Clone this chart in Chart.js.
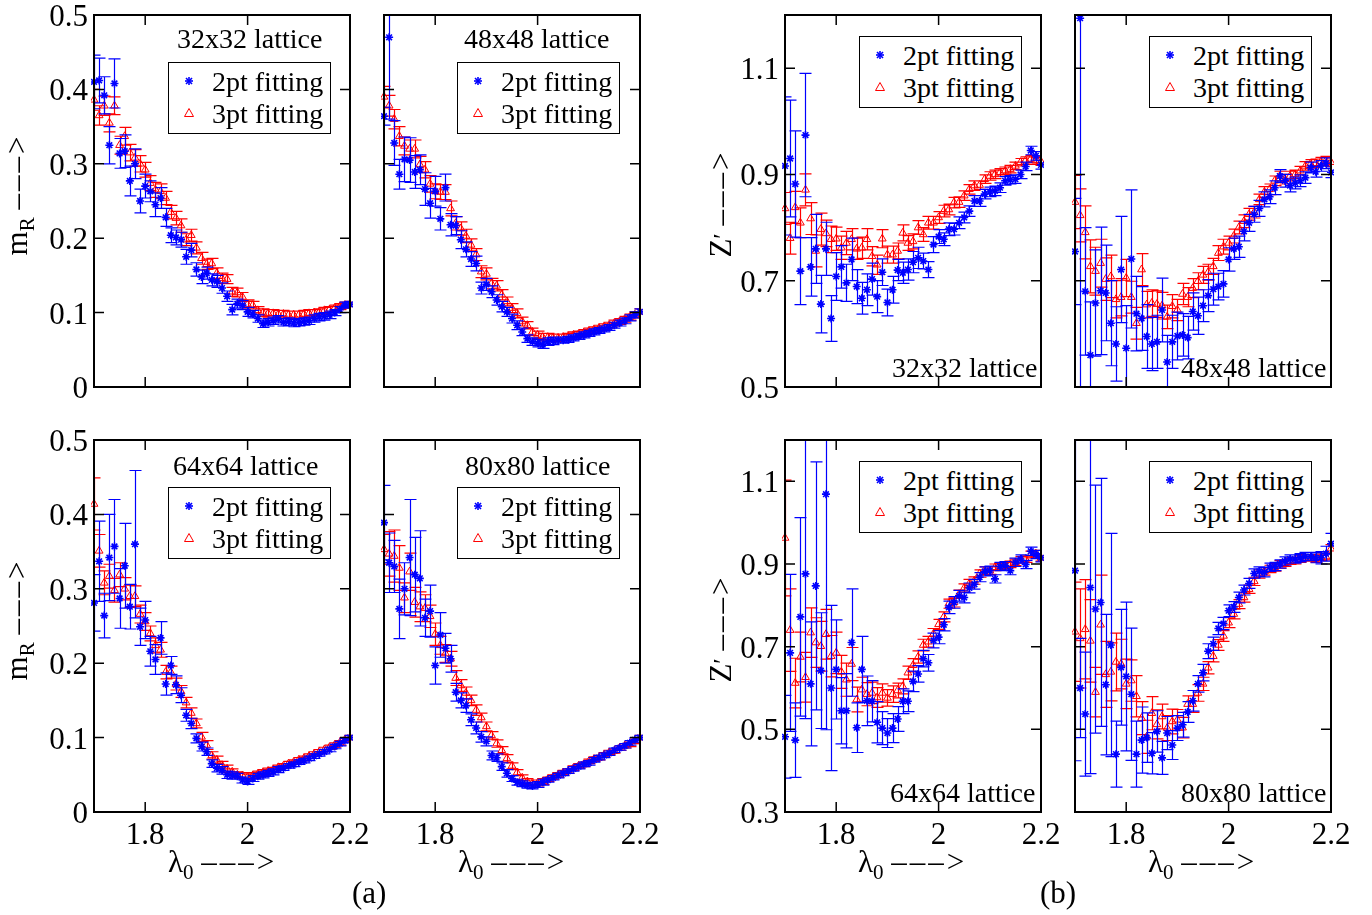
<!DOCTYPE html>
<html>
<head>
<meta charset="utf-8">
<script src="https://cdn.jsdelivr.net/npm/chart.js@4.4.1/dist/chart.umd.min.js"></script>
<style>
  html, body { margin: 0; padding: 0; background: #fff; }
  #page { position: relative; width: 1372px; height: 915px; overflow: hidden; font-family: 'Liberation Serif', 'Times New Roman', serif; color: #000; }
  canvas { position: absolute; }
  .txt { position: absolute; white-space: nowrap; font-size: 28px; line-height: 28px; }
  .legend { position: absolute; width: 163px; height: 72px; border: 1px solid #000; background: #fff; box-sizing: border-box; }
  .legend .row { position: absolute; left: 43px; font-size: 28px; line-height: 32px; white-space: nowrap; }
  .legend svg { position: absolute; left: 12px; }
  .title { position: absolute; white-space: nowrap; font-size: 31px; line-height: 32px; }
  .rot { position: absolute; width: 200px; height: 32px; line-height: 32px; text-align: center; font-size: 31px; transform: rotate(-90deg); white-space: nowrap; }
  .dash { letter-spacing: 3px; }
  sub { font-size: 68%; vertical-align: -0.35em; line-height: 0; }
</style>
</head>
<body>
<div id="page"></div>
<script>
// coupling values lambda_0 (shared x positions)
const lambda = [1.70,1.71,1.72,1.73,1.74,1.75,1.76,1.77,1.78,1.79,
                1.80,1.81,1.82,1.83,1.84,1.85,1.86,1.87,1.88,1.89,
                1.90,1.91,1.92,1.93,1.94,1.95,1.96,1.97,1.98,1.99,
                2.00,2.01,2.02,2.03,2.04,2.05,2.06,2.07,2.08,2.09,
                2.10,2.11,2.12,2.13,2.14,2.15,2.16,2.17,2.18,2.19,
                2.20];

const xTicks = [1.8, 2.0, 2.2];
const mTicks = [0, 0.1, 0.2, 0.3, 0.4, 0.5];
const zTopTicks = [0.5, 0.7, 0.9, 1.1];
const zBottomTicks = [0.3, 0.5, 0.7, 0.9, 1.1];

const latticeLabels = ['32x32 lattice', '48x48 lattice', '64x64 lattice', '80x80 lattice'];
const seriesLabels = ['2pt fitting', '3pt fitting'];

// ---- (a) renormalized mass m_R ----
const m32Two = [.410,.412,.392,.325,.408,.314,.317,.277,.300,.250,
                .270,.263,.245,.254,.228,.204,.201,.198,.175,.184,
                .158,.148,.153,.144,.142,.133,.122,.104,.112,.110,
                .101,.098,.092,.085,.087,.089,.091,.087,.088,.086,
                .087,.088,.089,.092,.094,.095,.097,.100,.104,.110,
                .111];
const m32TwoErr = [.036,.030,.025,.025,.033,.020,.022,.020,.020,.016,
                   .016,.014,.016,.014,.012,.010,.010,.010,.010,.009,
                   .009,.009,.008,.008,.008,.007,.007,.007,.006,.006,
                   .006,.005,.005,.005,.005,.005,.005,.005,.005,.005,
                   .005,.005,.005,.005,.005,.005,.005,.004,.004,.004,
                   .004];
const m32Three = [.386,.365,.378,.355,.378,.325,.337,.315,.308,.300,
                  .292,.274,.265,.263,.254,.235,.227,.217,.198,.204,
                  .187,.173,.165,.166,.153,.146,.145,.128,.127,.121,
                  .111,.110,.103,.100,.099,.099,.098,.098,.097,.097,
                  .097,.098,.099,.100,.101,.103,.104,.106,.108,.110,
                  .111];
const m32ThreeErr = [.014,.013,.013,.012,.012,.012,.012,.011,.011,.011,
                     .010,.010,.010,.010,.009,.009,.009,.009,.008,.008,
                     .008,.008,.007,.007,.007,.007,.006,.006,.006,.006,
                     .006,.005,.005,.005,.005,.005,.005,.005,.005,.005,
                     .005,.005,.005,.004,.004,.004,.004,.004,.004,.004,
                     .004];

const m48Two = [.364,.470,.328,.286,.306,.305,.289,.292,.266,.247,
                .263,.226,.268,.218,.217,.198,.185,.172,.166,.133,
                .138,.128,.117,.108,.101,.092,.083,.074,.065,.061,
                .059,.057,.061,.062,.063,.063,.064,.066,.068,.070,
                .072,.074,.076,.078,.080,.083,.086,.089,.093,.097,
                .101];
const m48TwoErr = [.012,.110,.030,.020,.030,.030,.022,.020,.022,.020,
                   .020,.015,.018,.015,.012,.012,.010,.010,.010,.008,
                   .008,.008,.007,.007,.006,.006,.006,.005,.005,.005,
                   .005,.005,.005,.005,.004,.004,.004,.004,.004,.004,
                   .004,.004,.004,.004,.004,.004,.004,.004,.004,.004,
                   .004];
const m48Three = [.390,.378,.360,.337,.324,.320,.320,.299,.292,.273,
                  .263,.262,.262,.240,.220,.213,.203,.191,.178,.155,
                  .152,.139,.136,.124,.115,.106,.099,.088,.083,.074,
                  .070,.067,.067,.066,.066,.067,.068,.070,.071,.073,
                  .075,.077,.079,.081,.083,.086,.088,.091,.094,.097,
                  .101];
const m48ThreeErr = [.014,.014,.013,.013,.012,.012,.012,.011,.011,.011,
                     .010,.010,.010,.010,.009,.009,.009,.008,.008,.008,
                     .008,.007,.007,.007,.006,.006,.006,.006,.005,.005,
                     .005,.005,.005,.005,.005,.004,.004,.004,.004,.004,
                     .004,.004,.004,.004,.004,.004,.004,.004,.004,.004,
                     .004];

const m64Two = [.281,.337,.264,.342,.357,.287,.331,.276,.360,.249,
                .258,.216,.205,.234,.172,.197,.171,.157,.130,.119,
                .099,.088,.081,.065,.059,.056,.050,.049,.048,.043,
                .041,.045,.048,.050,.052,.054,.057,.059,.062,.064,
                .067,.069,.072,.075,.078,.081,.084,.088,.092,.096,
                .100];
const m64TwoErr = [.038,.054,.030,.058,.063,.040,.057,.030,.099,.025,
                   .025,.020,.020,.022,.015,.012,.012,.010,.008,.007,
                   .006,.006,.005,.005,.005,.005,.005,.005,.004,.004,
                   .004,.004,.004,.004,.004,.004,.004,.003,.003,.003,
                   .003,.003,.003,.003,.003,.003,.003,.003,.003,.003,
                   .003];
const m64Three = [.414,.351,.308,.317,.298,.319,.300,.290,.290,.266,
                  .256,.240,.224,.218,.188,.188,.172,.162,.147,.133,
                  .119,.101,.090,.076,.070,.063,.058,.054,.050,.049,
                  .047,.049,.051,.053,.055,.057,.060,.062,.065,.067,
                  .070,.072,.075,.078,.081,.084,.087,.090,.093,.097,
                  .100];
const m64ThreeErr = [.035,.022,.016,.016,.016,.016,.015,.015,.014,.012,
                     .012,.010,.010,.010,.009,.008,.008,.008,.007,.007,
                     .006,.006,.006,.005,.005,.005,.005,.004,.004,.004,
                     .004,.004,.004,.004,.004,.003,.003,.003,.003,.003,
                     .003,.003,.003,.003,.003,.003,.003,.003,.003,.003,
                     .003];

const m80Two = [.389,.335,.330,.273,.300,.342,.319,.314,.261,.270,
                .197,.238,.220,.206,.161,.150,.143,.124,.113,.101,
                .095,.076,.073,.061,.052,.045,.040,.038,.036,.035,
                .037,.040,.043,.046,.049,.052,.055,.058,.061,.064,
                .066,.070,.073,.076,.079,.083,.086,.089,.093,.097,
                .100];
const m80TwoErr = [.050,.040,.035,.040,.035,.078,.050,.064,.025,.035,
                   .025,.030,.020,.018,.012,.010,.009,.008,.008,.007,
                   .006,.006,.005,.005,.005,.004,.004,.004,.004,.004,
                   .004,.004,.003,.003,.003,.003,.003,.003,.003,.003,
                   .003,.003,.003,.003,.003,.003,.003,.003,.003,.003,
                   .003];
const m80Three = [.353,.347,.344,.328,.288,.323,.282,.276,.274,.263,
                  .239,.224,.213,.206,.180,.170,.160,.150,.137,.127,
                  .115,.103,.092,.083,.072,.062,.053,.046,.041,.039,
                  .039,.041,.044,.047,.050,.053,.055,.059,.062,.064,
                  .068,.071,.073,.077,.080,.082,.086,.089,.091,.095,
                  .100];
const m80ThreeErr = [.020,.030,.035,.030,.020,.025,.020,.020,.018,.015,
                     .015,.012,.012,.010,.010,.008,.008,.007,.007,.006,
                     .006,.005,.005,.005,.005,.004,.004,.004,.004,.004,
                     .004,.004,.003,.003,.003,.003,.003,.003,.003,.003,
                     .003,.003,.003,.003,.003,.003,.003,.003,.003,.003,
                     .003];

// ---- (b) wave function renormalization Z' ----
const z32Two = [.916,.930,.882,.718,.974,.726,.760,.656,.760,.629,
                .708,.726,.696,.740,.689,.667,.683,.703,.670,.716,
                .659,.683,.720,.715,.721,.735,.743,.737,.721,.768,
                .783,.778,.797,.797,.809,.819,.831,.850,.850,.863,
                .867,.869,.875,.888,.890,.891,.900,.915,.945,.935,
                .918];
const z32TwoErr = [.130,.110,.100,.063,.116,.055,.065,.054,.050,.043,
                   .045,.040,.035,.040,.032,.030,.030,.030,.030,.025,
                   .025,.025,.020,.020,.020,.020,.020,.015,.015,.015,
                   .013,.012,.012,.011,.011,.010,.010,.010,.010,.009,
                   .009,.009,.009,.008,.008,.008,.008,.008,.008,.008,
                   .008];
const z32Three = [.836,.780,.838,.809,.871,.817,.756,.797,.789,.778,
                  .779,.762,.771,.778,.760,.762,.778,.746,.730,.779,
                  .749,.749,.756,.790,.771,.774,.800,.787,.809,.809,
                  .819,.831,.834,.847,.848,.860,.872,.879,.880,.891,
                  .897,.900,.904,.907,.910,.916,.923,.926,.929,.926,
                  .924];
const z32ThreeErr = [.030,.030,.030,.028,.030,.030,.030,.030,.025,.025,
                     .022,.022,.022,.020,.020,.020,.020,.018,.018,.017,
                     .016,.016,.015,.015,.014,.014,.013,.013,.012,.012,
                     .011,.011,.010,.010,.010,.009,.009,.009,.008,.008,
                     .008,.008,.007,.007,.007,.007,.007,.007,.007,.007,
                     .007];

const z48Two = [.755,1.194,.680,.560,.658,.681,.677,.620,.581,.721,
                .573,.741,.638,.629,.595,.581,.585,.645,.547,.585,
                .596,.598,.593,.642,.634,.653,.672,.684,.689,.694,
                .740,.760,.764,.793,.809,.825,.836,.853,.858,.875,
                .897,.888,.879,.884,.888,.894,.913,.905,.916,.921,
                .904];
const z48TwoErr = [.100,.700,.120,.100,.100,.120,.090,.080,.070,.100,
                   .080,.130,.070,.060,.060,.050,.050,.060,.050,.050,
                   .045,.040,.040,.035,.035,.030,.030,.030,.025,.025,
                   .022,.020,.020,.018,.016,.015,.015,.014,.013,.013,
                   .012,.012,.012,.011,.011,.011,.010,.010,.010,.010,
                   .010];
const z48Three = [.848,.823,.791,.727,.718,.733,.703,.708,.665,.669,
                  .705,.669,.620,.721,.655,.658,.656,.653,.632,.652,
                  .645,.675,.669,.686,.699,.711,.716,.727,.752,.764,
                  .771,.784,.800,.812,.825,.829,.853,.867,.872,.888,
                  .897,.891,.897,.900,.907,.916,.920,.921,.924,.926,
                  .923];
const z48ThreeErr = [.050,.050,.050,.050,.045,.045,.040,.040,.035,.035,
                     .035,.030,.030,.030,.025,.025,.025,.025,.022,.022,
                     .020,.020,.018,.018,.016,.016,.015,.015,.014,.014,
                     .013,.013,.012,.012,.011,.011,.010,.010,.010,.009,
                     .009,.009,.009,.008,.008,.008,.008,.008,.008,.008,
                     .008];

const z64Two = [.482,.685,.474,.772,.876,.610,.847,.642,1.069,.600,
                .645,.545,.545,.710,.504,.645,.569,.568,.517,.503,
                .491,.503,.525,.568,.568,.616,.634,.671,.661,.715,
                .723,.753,.795,.807,.823,.819,.842,.851,.868,.882,
                .884,.864,.894,.896,.884,.904,.912,.899,.931,.923,
                .915];
const z64TwoErr = [.100,.190,.090,.240,.350,.150,.300,.140,.570,.200,
                   .120,.080,.090,.130,.060,.080,.060,.050,.050,.040,
                   .035,.035,.030,.030,.025,.025,.020,.020,.020,.018,
                   .016,.015,.015,.014,.013,.013,.012,.012,.011,.011,
                   .011,.010,.010,.010,.010,.010,.010,.010,.010,.010,
                   .010];
const z64Three = [.963,.740,.612,.675,.626,.734,.710,.701,.730,.677,
                  .685,.639,.620,.658,.572,.596,.585,.588,.577,.588,
                  .576,.585,.594,.604,.637,.655,.675,.704,.712,.731,
                  .754,.772,.804,.807,.827,.842,.853,.860,.877,.884,
                  .884,.892,.894,.896,.899,.904,.910,.912,.923,.925,
                  .915];
const z64ThreeErr = [.140,.100,.060,.060,.060,.060,.060,.060,.060,.050,
                     .050,.040,.040,.040,.030,.030,.028,.026,.024,.022,
                     .020,.020,.018,.018,.016,.016,.015,.014,.013,.013,
                     .012,.012,.011,.011,.010,.010,.010,.009,.009,.009,
                     .009,.008,.008,.008,.008,.008,.008,.008,.008,.008,
                     .008];

const z80Two = [.884,.600,.537,.843,.791,.807,.608,.704,.440,.650,
                .628,.585,.440,.474,.480,.442,.495,.431,.491,.462,
                .503,.511,.542,.569,.610,.637,.689,.707,.744,.756,
                .787,.796,.819,.837,.853,.877,.882,.880,.892,.894,
                .900,.907,.912,.912,.915,.918,.918,.915,.915,.925,
                .949];
const z80TwoErr = [.460,.120,.150,.450,.300,.300,.170,.270,.080,.140,
                   .180,.160,.080,.080,.060,.050,.050,.040,.040,.035,
                   .030,.030,.025,.025,.020,.020,.018,.016,.015,.015,
                   .014,.013,.013,.012,.012,.011,.011,.011,.010,.010,
                   .010,.010,.010,.010,.010,.010,.010,.012,.015,.018,
                   .025];
const z80Three = [.736,.720,.742,.714,.590,.753,.633,.639,.663,.658,
                  .610,.618,.580,.527,.482,.539,.512,.531,.503,.519,
                  .523,.504,.561,.561,.588,.610,.649,.677,.704,.726,
                  .758,.779,.803,.819,.839,.858,.876,.882,.888,.892,
                  .899,.902,.907,.908,.912,.915,.915,.912,.916,.918,
                  .937];
const z80ThreeErr = [.120,.120,.120,.100,.060,.120,.080,.070,.070,.060,
                     .060,.050,.050,.040,.040,.040,.035,.030,.030,.030,
                     .025,.025,.020,.020,.020,.016,.015,.014,.013,.013,
                     .012,.012,.011,.011,.010,.010,.010,.009,.009,.009,
                     .009,.008,.008,.008,.008,.008,.008,.008,.008,.008,
                     .010];

const BLUE = '#0000ff';
const RED = '#ff0000';
const FONT = "'Liberation Serif', 'Times New Roman', serif";

// plot boxes [left, top, right, bottom] in page pixels
const panels = [
  { two: m32Two, twoErr: m32TwoErr, three: m32Three, threeErr: m32ThreeErr, yMin: 0, yMax: 0.5, yTicks: mTicks,
    box: [94, 15, 350, 387], showY: true, showX: false, lattice: 0, latPos: [177, 25], legPos: [168, 62] },
  { two: m48Two, twoErr: m48TwoErr, three: m48Three, threeErr: m48ThreeErr, yMin: 0, yMax: 0.5, yTicks: mTicks,
    box: [384, 15, 640, 387], showY: false, showX: false, lattice: 1, latPos: [464, 25], legPos: [457, 62] },
  { two: m64Two, twoErr: m64TwoErr, three: m64Three, threeErr: m64ThreeErr, yMin: 0, yMax: 0.5, yTicks: mTicks,
    box: [94, 440, 350, 812], showY: true, showX: true, lattice: 2, latPos: [173, 452], legPos: [168, 487] },
  { two: m80Two, twoErr: m80TwoErr, three: m80Three, threeErr: m80ThreeErr, yMin: 0, yMax: 0.5, yTicks: mTicks,
    box: [384, 440, 640, 812], showY: false, showX: true, lattice: 3, latPos: [465, 452], legPos: [457, 487] },
  { two: z32Two, twoErr: z32TwoErr, three: z32Three, threeErr: z32ThreeErr, yMin: 0.5, yMax: 1.2, yTicks: zTopTicks,
    box: [785, 15, 1041, 387], showY: true, showX: false, lattice: 0, latPos: [892, 354], legPos: [859, 36] },
  { two: z48Two, twoErr: z48TwoErr, three: z48Three, threeErr: z48ThreeErr, yMin: 0.5, yMax: 1.2, yTicks: zTopTicks,
    box: [1075, 15, 1331, 387], showY: false, showX: false, lattice: 1, latPos: [1181, 354], legPos: [1149, 36] },
  { two: z64Two, twoErr: z64TwoErr, three: z64Three, threeErr: z64ThreeErr, yMin: 0.3, yMax: 1.2, yTicks: zBottomTicks,
    box: [785, 440, 1041, 812], showY: true, showX: true, lattice: 2, latPos: [890, 779], legPos: [859, 461] },
  { two: z80Two, twoErr: z80TwoErr, three: z80Three, threeErr: z80ThreeErr, yMin: 0.3, yMax: 1.2, yTicks: zBottomTicks,
    box: [1075, 440, 1331, 812], showY: false, showX: true, lattice: 3, latPos: [1181, 779], legPos: [1149, 461] }
];

// error bars drawn just before each dataset's markers
const errorBarPlugin = {
  id: 'errorBars',
  beforeDatasetDraw(chart, args) {
    const ds = chart.data.datasets[args.index];
    if (!ds.errors) return;
    const ctx = chart.ctx;
    const xs = chart.scales.x, ys = chart.scales.y;
    const area = chart.chartArea;
    ctx.save();
    ctx.beginPath();
    ctx.rect(area.left, area.top, area.right - area.left, area.bottom - area.top);
    ctx.clip();
    ctx.strokeStyle = ds.borderColor;
    ctx.lineWidth = 1.2;
    ctx.beginPath();
    ds.data.forEach((p, i) => {
      const e = ds.errors[i];
      const px = Math.round(xs.getPixelForValue(p.x)) + 0.5;
      const y1 = ys.getPixelForValue(p.y - e);
      const y2 = ys.getPixelForValue(p.y + e);
      ctx.moveTo(px, y1); ctx.lineTo(px, y2);
      ctx.moveTo(px - 6, y1); ctx.lineTo(px + 6, y1);
      ctx.moveTo(px - 6, y2); ctx.lineTo(px + 6, y2);
    });
    ctx.stroke();
    ctx.restore();
  }
};

const fmt = v => String(Number(Number(v).toFixed(2)));

// box frame with inward tick marks on all four sides, plus tick labels
const framePlugin = {
  id: 'frame',
  afterDraw(chart, args, opts) {
    const ctx = chart.ctx;
    const a = chart.chartArea;
    const xs = chart.scales.x, ys = chart.scales.y;
    ctx.save();
    ctx.strokeStyle = '#000';
    ctx.lineWidth = 2;
    ctx.strokeRect(a.left, a.top, a.right - a.left, a.bottom - a.top);
    ctx.lineWidth = 1.5;
    ctx.beginPath();
    opts.xTicks.forEach(v => {
      const px = xs.getPixelForValue(v);
      if (px < a.left + 2 || px > a.right - 2) return;
      ctx.moveTo(px, a.bottom); ctx.lineTo(px, a.bottom - 10);
      ctx.moveTo(px, a.top); ctx.lineTo(px, a.top + 10);
    });
    opts.yTicks.forEach(v => {
      const py = ys.getPixelForValue(v);
      if (py < a.top + 2 || py > a.bottom - 2) return;
      ctx.moveTo(a.left, py); ctx.lineTo(a.left + 10, py);
      ctx.moveTo(a.right, py); ctx.lineTo(a.right - 10, py);
    });
    ctx.stroke();
    ctx.fillStyle = '#000';
    ctx.font = '31px ' + FONT;
    if (opts.showX) {
      ctx.textAlign = 'center';
      ctx.textBaseline = 'alphabetic';
      opts.xTicks.forEach(v => {
        ctx.fillText(fmt(v), xs.getPixelForValue(v), a.bottom + 32);
      });
    }
    if (opts.showY) {
      ctx.textAlign = 'right';
      ctx.textBaseline = 'alphabetic';
      opts.yTicks.forEach(v => {
        ctx.fillText(fmt(v), a.left - 6, ys.getPixelForValue(v) + 11);
      });
    }
    ctx.restore();
  }
};

const page = document.getElementById('page');

function addDiv(cls, left, top, html) {
  const d = document.createElement('div');
  d.className = cls;
  d.style.left = left + 'px';
  d.style.top = top + 'px';
  d.innerHTML = html;
  page.appendChild(d);
  return d;
}

const starSvg = '<svg width="16" height="16" viewBox="-8 -8 16 16" style="top:10px"><g stroke="' + BLUE + '" stroke-width="1.6">' +
  '<line x1="-4" y1="0" x2="4" y2="0"/><line x1="0" y1="-4" x2="0" y2="4"/>' +
  '<line x1="-3" y1="-3" x2="3" y2="3"/><line x1="-3" y1="3" x2="3" y2="-3"/></g></svg>';
const triSvg = '<svg width="16" height="16" viewBox="-8 -8 16 16" style="top:42px"><polygon points="0,-4.5 4.5,3.5 -4.5,3.5" fill="none" stroke="' + RED + '" stroke-width="1"/></svg>';

panels.forEach(p => {
  const [L, T, R, B] = p.box;
  const padL = p.showY ? 80 : 6;
  const padB = p.showX ? 45 : 22;
  const padT = 20, padR = 25;
  const cv = document.createElement('canvas');
  const W = R - L + padL + padR, H = B - T + padT + padB;
  cv.width = W; cv.height = H;
  cv.style.left = (L - padL) + 'px';
  cv.style.top = (T - padT) + 'px';
  cv.style.width = W + 'px'; cv.style.height = H + 'px';
  page.appendChild(cv);

  new Chart(cv, {
    type: 'scatter',
    data: {
      datasets: [
        { label: seriesLabels[0], data: lambda.map((x, i) => ({ x: x, y: p.two[i] })), errors: p.twoErr,
          pointStyle: 'star', radius: 4, borderWidth: 1.6, borderColor: BLUE, backgroundColor: BLUE, clip: 3 },
        { label: seriesLabels[1], data: lambda.map((x, i) => ({ x: x, y: p.three[i] })), errors: p.threeErr,
          pointStyle: 'triangle', radius: 4.5, borderWidth: 1, borderColor: RED, backgroundColor: 'rgba(0,0,0,0)', clip: 3 }
      ]
    },
    options: {
      responsive: false,
      animation: false,
      events: [],
      devicePixelRatio: 1,
      layout: { padding: { left: 0, top: padT, right: padR, bottom: 0 } },
      scales: {
        x: {
          type: 'linear', min: 1.7, max: 2.2,
          afterFit: s => { s.height = padB; },
          afterBuildTicks: s => { s.ticks = xTicks.map(v => ({ value: v })); },
          grid: { display: false, drawTicks: false },
          border: { display: false },
          ticks: { display: false }
        },
        y: {
          type: 'linear', min: p.yMin, max: p.yMax,
          afterFit: s => { s.width = padL; },
          afterBuildTicks: s => { s.ticks = p.yTicks.map(v => ({ value: v })); },
          grid: { display: false, drawTicks: false },
          border: { display: false },
          ticks: { display: false }
        }
      },
      plugins: {
        legend: { display: false },
        tooltip: { enabled: false },
        frame: { xTicks: xTicks, yTicks: p.yTicks, showX: p.showX, showY: p.showY }
      }
    },
    plugins: [errorBarPlugin, framePlugin]
  });

  addDiv('txt', p.latPos[0], p.latPos[1], latticeLabels[p.lattice]);
  const leg = addDiv('legend', p.legPos[0], p.legPos[1], '');
  leg.innerHTML = starSvg + triSvg +
    '<div class="row" style="top:3px">' + seriesLabels[0] + '</div>' +
    '<div class="row" style="top:35px">' + seriesLabels[1] + '</div>';
});

// axis titles
const arrow = '<span class="dash">–––</span>&gt;';
[[17, 196], [17, 621]].forEach(c => {
  addDiv('rot', c[0] - 100, c[1] - 16, 'm<sub>R</sub> ' + arrow);
});
[[721, 205], [721, 630]].forEach(c => {
  addDiv('rot', c[0] - 100, c[1] - 16, 'Z<span style="font-size:80%">′</span> ' + arrow);
});
[168, 458, 858, 1148].forEach(x => {
  addDiv('title', x, 846, 'λ<sub>0</sub> ' + arrow);
});
addDiv('title', 352, 877, '(a)');
addDiv('title', 1040, 877, '(b)');
</script>
</body>
</html>
